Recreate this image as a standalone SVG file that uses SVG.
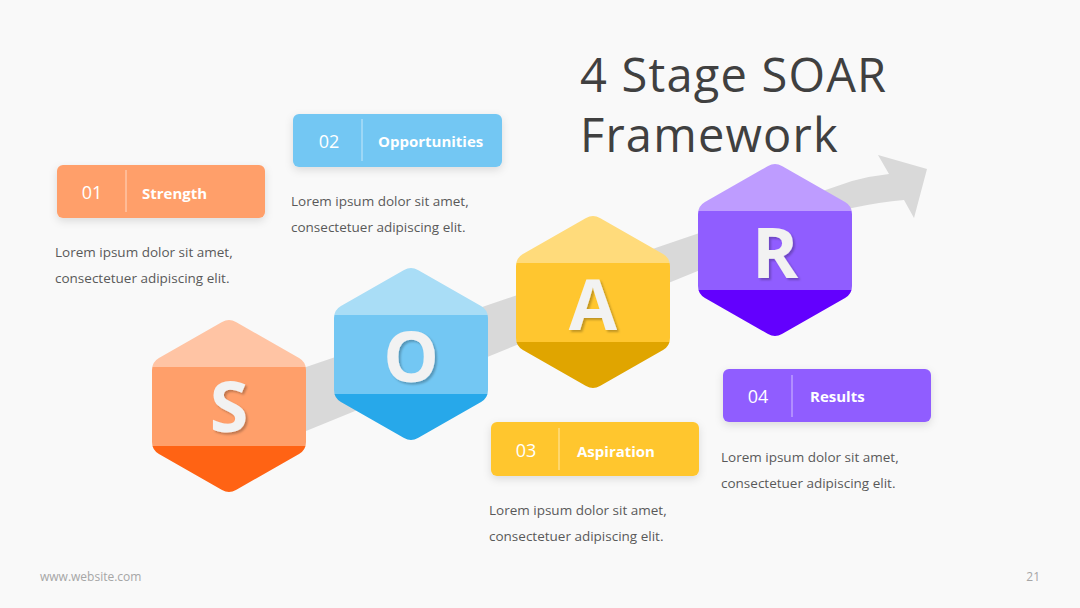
<svg xmlns="http://www.w3.org/2000/svg" width="1080" height="608" viewBox="0 0 1080 608">
<defs>
<style>
.title{font-family:"Open Sans","Liberation Sans",sans-serif;font-size:47px;letter-spacing:1.2px;fill:#404040}
.letter{font-family:"Open Sans","Liberation Sans",sans-serif;font-weight:700;font-size:70px;fill:#F2F2F2;text-anchor:middle}
.num{font-family:"Open Sans","Liberation Sans",sans-serif;font-size:18px;fill:#ffffff;text-anchor:middle}
.lbl{font-family:"Open Sans","Liberation Sans",sans-serif;font-weight:700;font-size:15px;fill:#ffffff}
.desc{font-family:"Open Sans","Liberation Sans",sans-serif;font-size:13.5px;fill:#595959}
.foot{font-family:"Open Sans","Liberation Sans",sans-serif;font-size:12px;fill:#a6a6a6}
.div{stroke:#ffffff;stroke-opacity:0.6;stroke-width:1}
</style>
<clipPath id="hexclip">
<path d="M -6.94,3.97 Q 0,0 6.94,3.97 L 70.06,40.03 Q 77,44 77,52 L 77,124 Q 77,132 70.06,135.97 L 6.94,172.03 Q 0,176 -6.94,172.03 L -70.06,135.97 Q -77,132 -77,124 L -77,52 Q -77,44 -70.06,40.03 Z"/>
</clipPath>
<filter id="lshadow" x="-20%" y="-20%" width="140%" height="140%">
<feDropShadow dx="2" dy="2" stdDeviation="1" flood-color="#000" flood-opacity="0.25"/>
</filter>
<filter id="bshadow" x="-20%" y="-30%" width="140%" height="170%">
<feDropShadow dx="0" dy="3" stdDeviation="4" flood-color="#000" flood-opacity="0.12"/>
</filter>
</defs>
<rect width="1080" height="608" fill="#F9F9F9"/>

<g id="connectors">
<path d="M 230 393 L 852 181 Q 870 176 889 174 L 878 155 L 927 169 L 914 218 L 904 200 Q 880 202 852 208 L 230 462 Z" fill="#D9D9D9"/>
</g>

<g id="title">
<text class="title" x="580" y="92">4 Stage SOAR</text>
<text class="title" x="580" y="152">Framework</text>
</g>

<g id="hex-s" transform="translate(229,318)">
<g clip-path="url(#hexclip)">
<rect x="-80" y="0" width="160" height="49" fill="#FFC4A4"/>
<rect x="-80" y="49" width="160" height="79" fill="#FF9F6A"/>
<rect x="-80" y="128" width="160" height="50" fill="#FF6314"/>
</g>
<text class="letter" x="0" y="114" filter="url(#lshadow)">S</text>
</g>

<g id="hex-o" transform="translate(411,266)">
<g clip-path="url(#hexclip)">
<rect x="-80" y="0" width="160" height="49" fill="#A9DDF6"/>
<rect x="-80" y="49" width="160" height="79" fill="#73C7F3"/>
<rect x="-80" y="128" width="160" height="50" fill="#27A8EA"/>
</g>
<text class="letter" x="0" y="116" filter="url(#lshadow)">O</text>
</g>

<g id="hex-a" transform="translate(593,214)">
<g clip-path="url(#hexclip)">
<rect x="-80" y="0" width="160" height="49" fill="#FFDB7B"/>
<rect x="-80" y="49" width="160" height="79" fill="#FFC62F"/>
<rect x="-80" y="128" width="160" height="50" fill="#E0A500"/>
</g>
<text class="letter" x="0" y="116" filter="url(#lshadow)">A</text>
</g>

<g id="hex-r" transform="translate(775,162)">
<g clip-path="url(#hexclip)">
<rect x="-80" y="0" width="160" height="49" fill="#BE9CFF"/>
<rect x="-80" y="49" width="160" height="79" fill="#905DFF"/>
<rect x="-80" y="128" width="160" height="50" fill="#6300FE"/>
</g>
<text class="letter" x="0" y="116" filter="url(#lshadow)">R</text>
</g>

<g id="label-strength">
<rect x="57" y="165" width="208" height="53" rx="6" fill="#FF9F6A" filter="url(#bshadow)"/>
<line class="div" x1="126" y1="170" x2="126" y2="212"/>
<text class="num" x="92" y="199">01</text>
<text class="lbl" x="142" y="199">Strength</text>
<text class="desc" x="55" y="257">Lorem ipsum dolor sit amet,</text>
<text class="desc" x="55" y="283">consectetuer adipiscing elit.</text>
</g>

<g id="label-opportunities">
<rect x="293" y="114" width="209" height="53" rx="6" fill="#73C7F3" filter="url(#bshadow)"/>
<line class="div" x1="362" y1="119" x2="362" y2="161"/>
<text class="num" x="329" y="148">02</text>
<text class="lbl" x="378" y="147">Opportunities</text>
<text class="desc" x="291" y="206">Lorem ipsum dolor sit amet,</text>
<text class="desc" x="291" y="232">consectetuer adipiscing elit.</text>
</g>

<g id="label-aspiration">
<rect x="491" y="422" width="208" height="54" rx="6" fill="#FFC62F" filter="url(#bshadow)"/>
<line class="div" x1="559" y1="428" x2="559" y2="470"/>
<text class="num" x="526" y="457">03</text>
<text class="lbl" x="577" y="457">Aspiration</text>
<text class="desc" x="489" y="515">Lorem ipsum dolor sit amet,</text>
<text class="desc" x="489" y="541">consectetuer adipiscing elit.</text>
</g>

<g id="label-results">
<rect x="723" y="369" width="208" height="53" rx="6" fill="#905DFF" filter="url(#bshadow)"/>
<line class="div" x1="792" y1="375" x2="792" y2="417"/>
<text class="num" x="758" y="403">04</text>
<text class="lbl" x="810" y="402">Results</text>
<text class="desc" x="721" y="462">Lorem ipsum dolor sit amet,</text>
<text class="desc" x="721" y="488">consectetuer adipiscing elit.</text>
</g>

<g id="footer">
<text class="foot" x="40" y="581">www.website.com</text>
<text class="foot" x="1040" y="581" text-anchor="end">21</text>
</g>
</svg>
